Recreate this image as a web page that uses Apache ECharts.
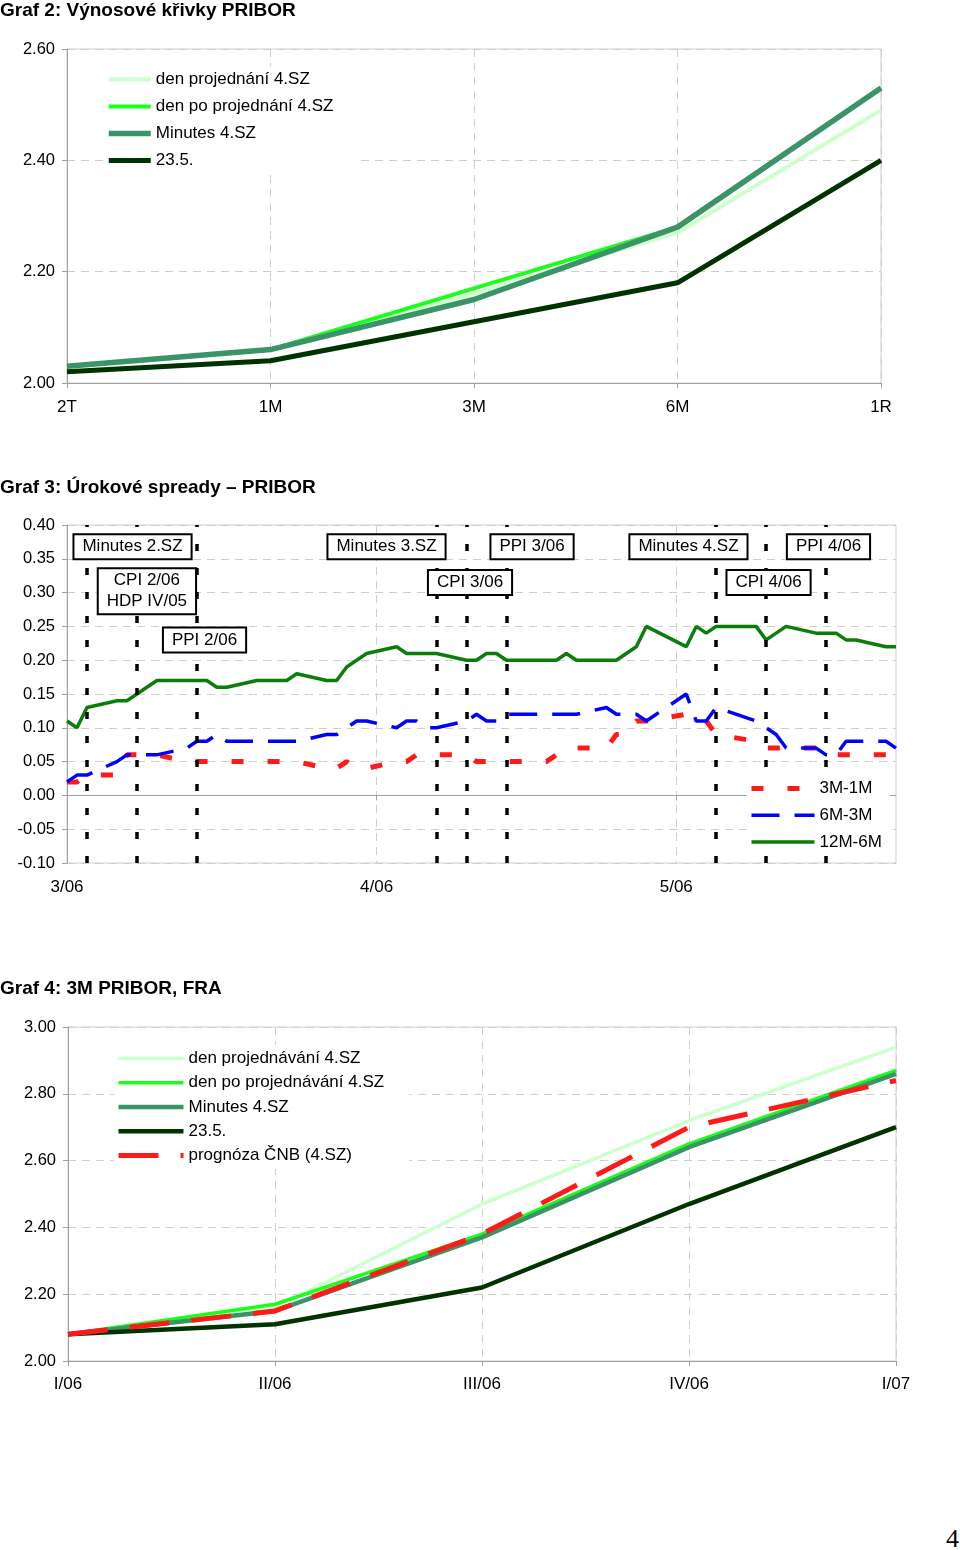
<!DOCTYPE html>
<html><head><meta charset="utf-8">
<script src="https://cdn.jsdelivr.net/npm/echarts/dist/echarts.min.js"></script>
<style>
body{margin:0;background:#fff;width:960px;height:1550px;position:relative;overflow:hidden}
.c{position:absolute;left:0;width:960px}
#pg{position:absolute;left:946px;top:1524px;font-family:'Liberation Serif','DejaVu Serif',serif;font-size:26px;color:#000}
</style></head><body>
<div id="g2" class="c" style="top:0;height:440px"></div>
<div id="g3" class="c" style="top:460px;height:460px"></div>
<div id="g4" class="c" style="top:960px;height:460px"></div>
<div id="pg">4</div>
<script>
// ---------- Graf 2 data ----------
const g2Categories = ['2T', '1M', '3M', '6M', '1R'];
const g2DenProjednani = [2.03, 2.06, 2.16, 2.27, 2.49];
const g2DenPoProjednani = [2.03, 2.06, 2.17, 2.28, 2.53];
const g2Minutes = [2.03, 2.06, 2.15, 2.28, 2.53];
const g2Den235 = [2.02, 2.04, 2.11, 2.18, 2.40];

// ---------- Graf 3 data ----------
const g3Start = '2006-03-01';
const g3End = '2006-05-23';
const g3MonthTicks = ['2006-03-01', '2006-04-01', '2006-05-01'];
const g3MonthLabels = ['3/06', '4/06', '5/06'];
const g3Dates = [
  '2006-03-01','2006-03-02','2006-03-03','2006-03-06','2006-03-07','2006-03-08','2006-03-09','2006-03-10',
  '2006-03-13','2006-03-14','2006-03-15','2006-03-16','2006-03-17','2006-03-20','2006-03-21','2006-03-22',
  '2006-03-23','2006-03-24','2006-03-27','2006-03-28','2006-03-29','2006-03-30','2006-03-31',
  '2006-04-03','2006-04-04','2006-04-05','2006-04-06','2006-04-07','2006-04-10','2006-04-11','2006-04-12',
  '2006-04-13','2006-04-14','2006-04-18','2006-04-19','2006-04-20','2006-04-21','2006-04-24','2006-04-25',
  '2006-04-26','2006-04-27','2006-04-28',
  '2006-05-02','2006-05-03','2006-05-04','2006-05-05','2006-05-09','2006-05-10','2006-05-11','2006-05-12',
  '2006-05-15','2006-05-16','2006-05-17','2006-05-18','2006-05-19','2006-05-22','2006-05-23'
];
const g3Spread3M1M = [
  0.02,0.02,0.03,0.03,0.06,0.06,0.06,0.06,0.05,0.05,0.05,0.05,0.05,0.05,0.05,0.05,0.05,0.05,0.04,0.04,0.05,0.04,0.04,
  0.05,0.05,0.06,0.06,0.06,0.06,0.05,0.05,0.05,0.05,0.05,0.06,0.06,0.07,0.07,0.09,0.09,0.11,0.11,
  0.12,0.12,0.11,0.09,0.08,0.07,0.07,0.07,0.07,0.06,0.06,0.06,0.06,0.06,0.07
];
const g3Spread6M3M = [
  0.02,0.03,0.03,0.05,0.06,0.06,0.06,0.06,0.07,0.08,0.08,0.09,0.08,0.08,0.08,0.08,0.08,0.08,0.09,0.09,0.10,0.11,0.11,
  0.10,0.11,0.11,0.10,0.10,0.11,0.12,0.11,0.11,0.12,0.12,0.12,0.12,0.12,0.13,0.12,0.12,0.12,0.11,
  0.15,0.11,0.11,0.13,0.11,0.10,0.09,0.07,0.07,0.06,0.06,0.08,0.08,0.08,0.07
];
const g3Spread12M6M = [
  0.11,0.10,0.13,0.14,0.14,0.15,0.16,0.17,0.17,0.17,0.17,0.16,0.16,0.17,0.17,0.17,0.17,0.18,0.17,0.17,0.19,0.20,0.21,
  0.22,0.21,0.21,0.21,0.21,0.20,0.20,0.21,0.21,0.20,0.20,0.20,0.21,0.20,0.20,0.20,0.21,0.22,0.25,
  0.22,0.25,0.24,0.25,0.25,0.23,0.24,0.25,0.24,0.24,0.24,0.23,0.23,0.22,0.22
];
const g3EventDates = ['2006-03-03','2006-03-08','2006-03-14','2006-04-07','2006-04-10','2006-04-14','2006-05-05','2006-05-10','2006-05-16'];
const g3AnnoTexts = ['Minutes 2.SZ','CPI 2/06\nHDP IV/05','PPI 2/06','Minutes 3.SZ','CPI 3/06','PPI 3/06','Minutes 4.SZ','CPI 4/06','PPI 4/06'];
const g3AnnoDay = [6.56, 8.0, 13.77, 31.99, 40.35, 46.56, 62.22, 70.24, 76.24];
const g3AnnoValue = [0.368, 0.302, 0.230, 0.368, 0.315, 0.368, 0.368, 0.315, 0.368];

// ---------- Graf 4 data ----------
const g4Categories = ['I/06', 'II/06', 'III/06', 'IV/06', 'I/07'];
const g4DenProjednavani = [2.08, 2.16, 2.47, 2.72, 2.94];
const g4DenPoProjednavani = [2.08, 2.17, 2.38, 2.65, 2.87];
const g4Minutes = [2.08, 2.15, 2.37, 2.64, 2.86];
const g4Den235 = [2.08, 2.11, 2.22, 2.47, 2.70];
const g4Prognoza = [2.08, 2.15, 2.38, 2.70, 2.84];

// ---------- common style ----------
const FONT = "'Liberation Sans', Arial, sans-serif";
const TITLE_FONT = "'Liberation Sans', Arial, sans-serif";
const AXIS_COLOR = '#a0a0a0';
const GRID_COLOR = '#cfcfcf';
const GRID_DASH = [8, 6];

function title(text, top) {
  return { text: text, left: 0, top: top, padding: 0,
    textStyle: { fontFamily: TITLE_FONT, fontSize: 19, fontWeight: 'bold', color: '#000' } };
}
function catAxis(data, margin, extra) {
  return Object.assign({
    type: 'category', data: data, boundaryGap: false,
    axisLine: { lineStyle: { color: AXIS_COLOR, width: 1 } },
    axisTick: { show: true, length: 5, lineStyle: { color: AXIS_COLOR } },
    axisLabel: { color: '#000', fontFamily: FONT, fontSize: 17, margin: margin },
    splitLine: { show: true, lineStyle: { color: GRID_COLOR, type: GRID_DASH } }
  }, extra || {});
}
function valAxis(min, max, interval, margin) {
  return {
    type: 'value', min: min, max: max, interval: interval,
    axisLine: { show: true, lineStyle: { color: AXIS_COLOR, width: 1 } },
    axisTick: { show: true, length: 5, lineStyle: { color: AXIS_COLOR } },
    axisLabel: { color: '#000', fontFamily: FONT, fontSize: 16.5, margin: margin,
      formatter: v => (Math.abs(v) < 1e-9 ? 0 : v).toFixed(2) },
    splitLine: { show: true, lineStyle: { color: GRID_COLOR, type: GRID_DASH } }
  };
}
function lineSeries(name, data, color, width, dash, z) {
  return { name: name, type: 'line', data: data, symbol: 'none', color: color,
    lineStyle: { color: color, width: width, type: dash || 'solid' },
    silent: true, animation: false, z: z || 2 };
}
// legend items: line only (symbol hidden), line width given per item
function legend(names, widths, left, top, itemWidth, itemGap, padding) {
  return { data: names.map((n, i) => ({ name: n, lineStyle: { width: widths[i] } })),
    orient: 'vertical', left: left, top: top, itemWidth: itemWidth, itemHeight: 12,
    itemGap: itemGap, backgroundColor: '#fff', padding: padding, z: 6, zlevel: 1, selectedMode: false,
    itemStyle: { color: 'rgba(0,0,0,0)', borderColor: 'rgba(0,0,0,0)', borderWidth: 0, opacity: 0 },
    textStyle: { fontFamily: FONT, fontSize: 17, color: '#000', lineHeight: 17 } };
}

// ---------- Graf 2 ----------
const c2 = echarts.init(document.getElementById('g2'), null, { renderer: 'canvas' });
c2.setOption({
  animation: false, backgroundColor: '#fff',
  title: title('Graf 2: Výnosové křivky PRIBOR', 1),
  grid: { left: 67, top: 49, width: 814, height: 334, show: true, borderColor: GRID_COLOR, borderWidth: 1, containLabel: false },
  xAxis: catAxis(g2Categories, 16),
  yAxis: valAxis(2.0, 2.6, 0.2, 12),
  legend: legend(['den projednání 4.SZ', 'den po projednání 4.SZ', 'Minutes 4.SZ', '23.5.'], [4, 4, 5.5, 5],
    104, 66, 42, 10, [5, 25, 5, 2]),
  series: [
    lineSeries('den projednání 4.SZ', g2DenProjednani, '#ccffcc', 4),
    lineSeries('den po projednání 4.SZ', g2DenPoProjednani, '#1aff1a', 4),
    lineSeries('Minutes 4.SZ', g2Minutes, '#3a9468', 5.5),
    lineSeries('23.5.', g2Den235, '#003300', 5)
  ]
});

// ---------- Graf 3 ----------
function calendarDays(a, b) {
  const out = [];
  let t = Date.UTC(+a.slice(0, 4), +a.slice(5, 7) - 1, +a.slice(8, 10));
  const e = Date.UTC(+b.slice(0, 4), +b.slice(5, 7) - 1, +b.slice(8, 10));
  while (t <= e) { out.push(new Date(t).toISOString().slice(0, 10)); t += 86400000; }
  return out;
}
const g3Axis = calendarDays(g3Start, g3End);
const isMonth = (i, v) => g3MonthTicks.indexOf(v) >= 0;
const pairs = vals => g3Dates.map((d, i) => [d, vals[i]]);

const c3 = echarts.init(document.getElementById('g3'), null, { renderer: 'canvas' });
c3.setOption({
  animation: false, backgroundColor: '#fff',
  title: title('Graf 3: Úrokové spready – PRIBOR', 18),
  grid: { left: 67, top: 65, width: 829, height: 338, show: true, borderColor: GRID_COLOR, borderWidth: 1, containLabel: false },
  xAxis: [
    catAxis(g3Axis, 16, {
      axisTick: { show: true, length: 5, interval: isMonth, lineStyle: { color: AXIS_COLOR } },
      axisLabel: { color: '#000', fontFamily: FONT, fontSize: 17, margin: 16, interval: isMonth,
        formatter: v => g3MonthLabels[g3MonthTicks.indexOf(v)] },
      splitLine: { show: true, interval: (i, v) => isMonth(i, v) && i > 0, lineStyle: { color: GRID_COLOR, type: GRID_DASH } }
    }),
    { type: 'value', min: 0, max: g3Axis.length - 1, show: false }
  ],
  yAxis: valAxis(-0.1, 0.4, 0.05, 12),
  legend: legend(['3M-1M', '6M-3M', '12M-6M'], [5, 3.5, 3.5], 747, 315, 63, 9.7, [5, 8, 5, 2]),
  series: [
    lineSeries('3M-1M', pairs(g3Spread3M1M), '#ff1a1a', 5, [12, 24]),
    lineSeries('6M-3M', pairs(g3Spread6M3M), '#0000ff', 3.5, [28, 15]),
    lineSeries('12M-6M', pairs(g3Spread12M6M), '#0a7d0a', 3.5),
    { name: 'events', type: 'line', data: [], z: 3, silent: true, symbol: 'none',
      markLine: { silent: true, symbol: ['none', 'none'], animation: false, label: { show: false },
        lineStyle: { color: '#000', width: 3.5, type: [7, 17] },
        data: g3EventDates.map(d => ({ xAxis: d })) } }
  ]
});
// annotation boxes, placed through the chart's own axes (hidden day axis + value axis)
c3.setOption({
  graphic: g3AnnoTexts.map((t, i) => ({
    type: 'text', silent: true, z: 100, zlevel: 2,
    x: c3.convertToPixel({ xAxisIndex: 1 }, g3AnnoDay[i]),
    y: c3.convertToPixel({ yAxisIndex: 0 }, g3AnnoValue[i]),
    style: { text: t, x: 0, y: 0, align: 'center', verticalAlign: 'middle', fill: '#000',
      fontFamily: FONT, fontSize: 17, lineHeight: 21, backgroundColor: '#fff',
      borderColor: '#000', borderWidth: 2, padding: [1, 8, 1, 8] }
  }))
});

// ---------- Graf 4 ----------
const c4 = echarts.init(document.getElementById('g4'), null, { renderer: 'canvas' });
c4.setOption({
  animation: false, backgroundColor: '#fff',
  title: title('Graf 4: 3M PRIBOR, FRA', 19),
  grid: { left: 68, top: 67, width: 828, height: 334, show: true, borderColor: GRID_COLOR, borderWidth: 1, containLabel: false },
  xAxis: catAxis(g4Categories, 15),
  yAxis: valAxis(2.0, 3.0, 0.2, 12),
  legend: legend(['den projednávání 4.SZ', 'den po projednávání 4.SZ', 'Minutes 4.SZ', '23.5.', 'prognóza ČNB (4.SZ)'],
    [3.5, 3.5, 4.5, 4.5, 5], 114, 85, 65, 7.25, [5, 25, 5, 2]),
  series: [
    lineSeries('den projednávání 4.SZ', g4DenProjednavani, '#ccffcc', 3.5),
    lineSeries('den po projednávání 4.SZ', g4DenPoProjednavani, '#1aff1a', 3.5),
    lineSeries('Minutes 4.SZ', g4Minutes, '#3a9468', 4.5),
    lineSeries('23.5.', g4Den235, '#003300', 4.5),
    lineSeries('prognóza ČNB (4.SZ)', g4Prognoza, '#ff1a1a', 5, [40, 22])
  ]
});
</script>
</body></html>
